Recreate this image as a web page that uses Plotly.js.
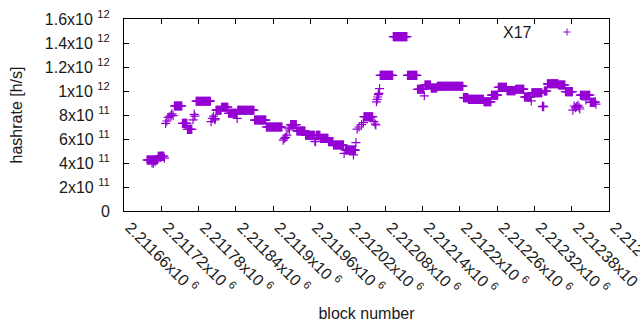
<!DOCTYPE html>
<html>
<head>
<meta charset="utf-8">
<script src="https://cdn.plot.ly/plotly-3.0.1.min.js"></script>
<style>html,body{margin:0;padding:0;background:#fff;}#chart{width:640px;height:330px;}</style>
</head>
<body>
<div id="chart"></div>
<script>
// Plateaus: consecutive blocks sharing one hashrate value (run-length encoded)
const runFrom = [2211697,2211715,2211741,2211754,2211762,2211776,2211808,2211817,2211828,2211843,2211870,2211889,2211928,2211938,2211952,2211969,2211976,2211989,2211997,2212016,2212046,2212072,2212093,2212116,2212132,2212144,2212154,2212164,2212206,2212214,2212239,2212251,2212262,2212276,2212290,2212304,2212316,2212336,2212341,2212359,2212370,2212394,2212404,2212410];
const runTo   = [2211713,2211724,2211753,2211761,2211769,2211799,2211816,2211827,2211841,2211869,2211888,2211914,2211937,2211951,2211966,2211975,2211988,2211996,2212013,2212032,2212060,2212092,2212115,2212131,2212142,2212153,2212163,2212205,2212213,2212238,2212250,2212261,2212275,2212289,2212303,2212314,2212332,2212340,2212358,2212369,2212381,2212402,2212409,2212417];
const runHash = [0.425e12,0.455e12,0.875e12,0.73e12,0.68e12,0.915e12,0.84e12,0.865e12,0.814e12,0.84e12,0.758e12,0.70e12,0.72e12,0.667e12,0.631e12,0.63e12,0.605e12,0.578e12,0.55e12,0.508e12,0.786e12,1.13e12,1.453e12,1.13e12,1.014e12,1.05e12,1.025e12,1.04e12,0.945e12,0.93e12,0.91e12,0.965e12,1.03e12,1.003e12,1.015e12,0.95e12,0.986e12,1.0e12,1.06e12,1.05e12,0.995e12,0.965e12,0.965e12,0.905e12];
// Individual blocks
const ptBlock = [2211705,2211707,2211710,2211714,2211719,2211721,2211725,2211727,2211729,2211731,2211734,2211736,2211737,2211739,2211771,2211773,2211774,2211800,2211802,2211804,2211806,2211807,2211842,2211916,2211918,2211920,2211922,2211924,2211926,2211967,2211968,2212014,2212029,2212033,2212035,2212038,2212042,2212045,2212062,2212064,2212065,2212066,2212067,2212068,2212069,2212070,2212071,2212143,2212315,2212333,2212334,2212335,2212382,2212384,2212386,2212388,2212390,2212392,2212393,2212403,2212418,2212419];
const ptHash  = [0.403e12,0.397e12,0.41e12,0.43e12,0.447e12,0.458e12,0.44e12,0.73e12,0.75e12,0.78e12,0.79e12,0.80e12,0.81e12,0.795e12,0.76e12,0.805e12,0.79e12,0.744e12,0.772e12,0.79e12,0.76e12,0.77e12,0.772e12,0.59e12,0.605e12,0.614e12,0.633e12,0.69e12,0.675e12,0.578e12,0.58e12,0.48e12,0.467e12,0.57e12,0.683e12,0.70e12,0.72e12,0.736e12,0.744e12,0.725e12,0.717e12,0.91e12,0.93e12,0.95e12,0.97e12,0.98e12,1.02e12,0.96e12,0.917e12,0.87e12,0.875e12,0.87e12,0.84e12,0.875e12,0.86e12,0.87e12,0.88e12,0.865e12,0.85e12,0.925e12,0.91e12,0.89e12];

const xTickVals = [2211660,2211720,2211780,2211840,2211900,2211960,2212020,2212080,2212140,2212200,2212260,2212320,2212380,2212440];
const xTickText = ["2.21166x10 <sup>6</sup>","2.21172x10 <sup>6</sup>","2.21178x10 <sup>6</sup>","2.21184x10 <sup>6</sup>","2.2119x10 <sup>6</sup>","2.21196x10 <sup>6</sup>","2.21202x10 <sup>6</sup>","2.21208x10 <sup>6</sup>","2.21214x10 <sup>6</sup>","2.2122x10 <sup>6</sup>","2.21226x10 <sup>6</sup>","2.21232x10 <sup>6</sup>","2.21238x10 <sup>6</sup>","2.21244x10 <sup>6</sup>"];
const yTickVals = [0,2e11,4e11,6e11,8e11,1e12,1.2e12,1.4e12,1.6e12];
const yTickText = ["0","2x10 <sup>11</sup>","4x10 <sup>11</sup>","6x10 <sup>11</sup>","8x10 <sup>11</sup>","1x10 <sup>12</sup>","1.2x10 <sup>12</sup>","1.4x10 <sup>12</sup>","1.6x10 <sup>12</sup>"];
const seriesName = "X17";

// build per-block list
const pts = [];
runFrom.forEach((f, i) => { for (let b = f; b <= runTo[i]; b++) pts.push([b, runHash[i]]); });
ptBlock.forEach((b, i) => pts.push([b, ptHash[i]]));
pts.sort((a, b) => a[0] - b[0]);

const color = '#9400d3';
const font = {family: 'Liberation Sans, Arial, sans-serif', size: 16, color: '#1a1a1a'};

const trace = {
  x: pts.map(p => p[0]), y: pts.map(p => p[1]),
  type: 'scatter', mode: 'markers', name: seriesName, showlegend: false,
  marker: {symbol: 'cross-thin', size: 6.5, color: color, line: {color: color, width: 1.2}}
};

const lx = (567 - 124) / 485, ly = (211 - 32) / 192;
const layout = {
  width: 640, height: 330,
  margin: {l: 124, r: 31, t: 19, b: 119},
  paper_bgcolor: '#fff', plot_bgcolor: '#fff',
  font: font,
  showlegend: false,
  xaxis: {
    range: [2211660, 2212440], tickvals: xTickVals, ticktext: xTickText,
    tickangle: 45, ticks: 'inside', ticklen: 5, tickcolor: '#000',
    showline: true, linecolor: '#000', linewidth: 1, mirror: 'ticks',
    showgrid: false, zeroline: false, ticklabelstandoff: 0, ticklabelshift: 6, ticklabeloverflow: 'allow',
    title: {text: 'block number', font: font, standoff: 11}
  },
  yaxis: {
    range: [0, 1.6e12], tickvals: yTickVals, ticktext: yTickText,
    ticks: 'inside', ticklen: 5, tickcolor: '#000',
    showline: true, linecolor: '#000', linewidth: 1, mirror: 'ticks',
    showgrid: false, zeroline: false, ticklabelstandoff: 10,
    title: {text: 'hashrate [h/s]', font: font, standoff: 18}
  },
  annotations: [{
    xref: 'paper', yref: 'paper', x: (534 - 124) / 485, y: ly,
    xanchor: 'right', yanchor: 'middle', text: seriesName, showarrow: false, font: font
  }],
  shapes: [
    {type: 'line', xref: 'paper', yref: 'paper', x0: lx - 3.5/485, x1: lx + 3.5/485, y0: ly, y1: ly, line: {color: color, width: 1}},
    {type: 'line', xref: 'paper', yref: 'paper', x0: lx, x1: lx, y0: ly - 3.5/192, y1: ly + 3.5/192, line: {color: color, width: 1}}
  ]
};

Plotly.newPlot('chart', [trace], layout, {displayModeBar: false, staticPlot: true});
</script>
</body>
</html>
